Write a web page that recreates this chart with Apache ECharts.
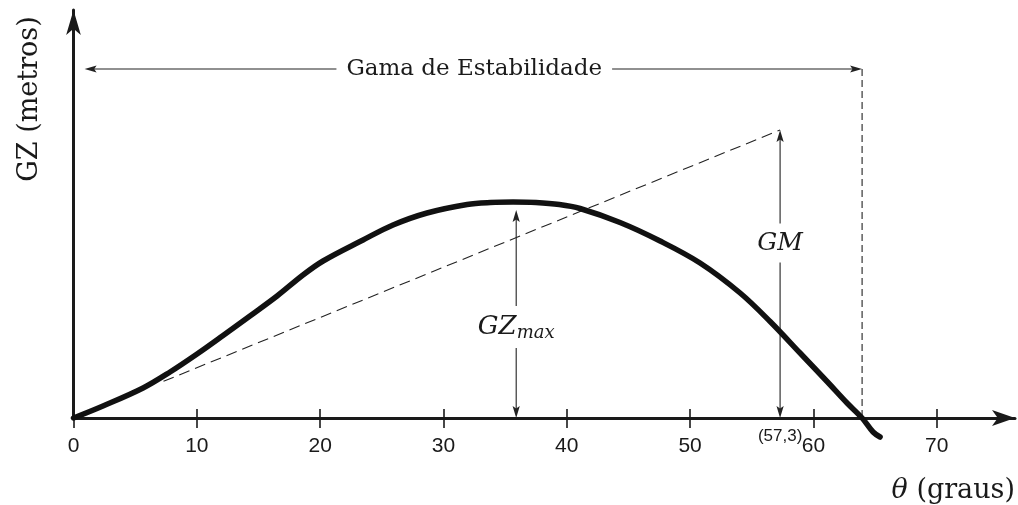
<!DOCTYPE html>
<html>
<head>
<meta charset="utf-8">
<script src="https://cdn.jsdelivr.net/npm/echarts@6/dist/echarts.min.js"></script>
<style>
  html, body { margin: 0; padding: 0; background: #ffffff; }
  #chart { width: 1018px; height: 505px; }
</style>
</head>
<body>
<div id="chart"></div>
<script>
// Righting-arm (GZ) curve: heel angle in degrees vs GZ in metres
const theta = [0, 2.39, 5.64, 7.83, 10.02, 12.13, 14.31, 16.51, 18.61, 20.24, 23.48, 25.91, 28.67, 31.92, 33.80, 35.65, 37.50, 39.40, 41.08, 44.32, 47.57, 50.81, 54.06, 56.49, 58.92, 61.11, 62.73, 63.95, 64.84, 65.41];
const gz    = [0, 0.12, 0.30, 0.46, 0.64, 0.825, 1.02, 1.22, 1.43, 1.57, 1.78, 1.93, 2.05, 2.135, 2.155, 2.16, 2.155, 2.135, 2.095, 1.955, 1.77, 1.55, 1.25, 0.965, 0.65, 0.365, 0.15, 0, -0.14, -0.19];

const tickValues  = [0, 10, 20, 30, 40, 50, 60, 70];
const innerTicks  = [10, 20, 30, 40, 50, 60, 70];

// Key quantities of the curve
const GM_THETA = 57.3;      // 1 radian, in degrees
const GM = 2.88;            // metacentric height read at 1 rad
const GZ_MAX_THETA = 35.9;
const GZ_MAX = 2.16;
const RANGE_END = 63.95;    // angle of vanishing stability
const RANGE_Y = 3.49;       // height of the "range" dimension line
const TANGENT_START = 7.3;

const X_MAX = 76.35;
const Y_MAX = 4.08;

// Dimension arrows: [x1, y1, x2, y2]
const arrows = [
  [0.9, RANGE_Y, RANGE_END, RANGE_Y],
  [GZ_MAX_THETA, 0, GZ_MAX_THETA, GZ_MAX - 0.08],
  [GM_THETA, 0, GM_THETA, GM]
];

// Text annotations: [x, y]
const noteTexts = ['Gama de Estabilidade', '{a|GZ}{b|max}', '{a|GM}', '(57,3)'];
const notePos = [[32.5, RANGE_Y], [GZ_MAX_THETA, 0.91], [GM_THETA, 1.75], [GM_THETA, 0]];

const INK = '#1a1a1a';
const SERIF = '"DejaVu Serif", serif';
const SANS = '"Liberation Sans", Arial, sans-serif';

function arrowItem(params, api) {
  const p1 = api.coord([api.value(0), api.value(1)]);
  const p2 = api.coord([api.value(2), api.value(3)]);
  const dx = p2[0] - p1[0], dy = p2[1] - p1[1];
  const len = Math.hypot(dx, dy);
  const ux = dx / len, uy = dy / len;
  const nx = -uy, ny = ux;
  const L = 12, W = 3.6;
  function head(tip, sx, sy) {
    const bx = tip[0] - L * sx, by = tip[1] - L * sy;
    return {
      type: 'polygon',
      shape: { points: [
        [tip[0], tip[1]],
        [bx + W * nx, by + W * ny],
        [tip[0] - 0.8 * L * sx, tip[1] - 0.8 * L * sy],
        [bx - W * nx, by - W * ny]
      ] },
      style: { fill: '#222' }
    };
  }
  return {
    type: 'group',
    children: [
      {
        type: 'line',
        shape: {
          x1: p1[0] + ux * 8, y1: p1[1] + uy * 8,
          x2: p2[0] - ux * 8, y2: p2[1] - uy * 8
        },
        style: { stroke: '#222', lineWidth: 1.1 }
      },
      head(p2, ux, uy),
      head(p1, -ux, -uy)
    ]
  };
}

function noteItem(params, api) {
  const i = params.dataIndex;
  const p = api.coord([api.value(0), api.value(1)]);
  const base = {
    type: 'text',
    x: p[0],
    y: p[1],
    z2: 10,
    style: {
      text: noteTexts[i],
      fill: INK,
      align: 'center',
      verticalAlign: 'middle',
      fontFamily: SERIF,
      fontSize: 23,
      backgroundColor: '#ffffff'
    }
  };
  if (i === 0) {
    base.style.padding = [2, 10];
  } else if (i === 1) {
    base.style.padding = [6, 4];
    base.style.rich = {
      a: { fontFamily: SERIF, fontStyle: 'italic', fontSize: 26, fill: INK, lineHeight: 30 },
      b: { fontFamily: SERIF, fontStyle: 'italic', fontSize: 18, fill: INK, verticalAlign: 'bottom', lineHeight: 12 }
    };
  } else if (i === 2) {
    base.style.padding = [7, 3];
    base.style.rich = {
      a: { fontFamily: SERIF, fontStyle: 'italic', fontSize: 25, fill: INK }
    };
  } else {
    base.y = p[1] + 18;
    base.style.fontFamily = SANS;
    base.style.fontSize = 17;
    base.style.backgroundColor = 'transparent';
  }
  return base;
}

const chart = echarts.init(document.getElementById('chart'), null, { renderer: 'canvas' });

chart.setOption({
  animation: false,
  backgroundColor: '#ffffff',
  grid: { left: 73.5, right: 3, top: 10, bottom: 87, containLabel: false },
  xAxis: [
    {
      type: 'value', min: 0, max: X_MAX, interval: 10, position: 'bottom',
      axisLine: {
        show: true, onZero: false,
        lineStyle: { color: INK, width: 3 },
        symbol: ['none', 'arrow'], symbolSize: [12, 23]
      },
      axisTick: { show: true, customValues: tickValues, length: 10, lineStyle: { color: INK, width: 1.6 } },
      axisLabel: { customValues: tickValues, margin: 18, fontFamily: SANS, fontSize: 21, color: INK },
      splitLine: { show: false }
    },
    {
      type: 'value', min: 0, max: X_MAX, interval: 10, position: 'bottom',
      axisLine: { show: false, onZero: false },
      axisTick: { show: true, inside: true, customValues: innerTicks, length: 9, lineStyle: { color: INK, width: 1.6 } },
      axisLabel: { show: false },
      splitLine: { show: false }
    }
  ],
  yAxis: {
    type: 'value', min: 0, max: Y_MAX,
    axisLine: {
      show: true, onZero: false,
      lineStyle: { color: INK, width: 3 },
      symbol: ['none', 'arrow'], symbolSize: [11, 25]
    },
    axisTick: { show: false },
    axisLabel: { show: false },
    splitLine: { show: false }
  },
  graphic: [
    {
      type: 'text', x: 30, y: 99, rotation: Math.PI / 2,
      style: {
        text: 'GZ (metros)', fill: INK, fontFamily: SERIF, fontSize: 27,
        align: 'center', verticalAlign: 'middle'
      }
    },
    {
      type: 'text', x: 1015, y: 491,
      style: {
        text: '{i|θ} (graus)', fill: INK, fontFamily: SERIF, fontSize: 27,
        align: 'right', verticalAlign: 'middle',
        rich: { i: { fontFamily: SERIF, fontStyle: 'italic', fontSize: 27, fill: INK } }
      }
    }
  ],
  series: [
    {
      name: 'tangente',
      type: 'line',
      data: [[TANGENT_START, GM * TANGENT_START / GM_THETA], [GM_THETA, GM]],
      showSymbol: false, symbol: 'none', silent: true,
      lineStyle: { color: '#222', width: 1.1, type: [11, 6] },
      z: 2
    },
    {
      name: 'limite',
      type: 'line',
      data: [[RANGE_END, RANGE_Y], [RANGE_END, 0]],
      showSymbol: false, symbol: 'none', silent: true,
      lineStyle: { color: '#222', width: 1.1, type: [7, 4] },
      z: 2
    },
    {
      name: 'GZ',
      type: 'line',
      data: theta.map((t, i) => [t, gz[i]]),
      smooth: 0.35,
      showSymbol: false, symbol: 'none', clip: false, silent: true,
      lineStyle: { color: '#111', width: 5.5, cap: 'round', join: 'round' },
      z: 5
    },
    {
      name: 'cotas',
      type: 'custom',
      data: arrows,
      renderItem: arrowItem,
      silent: true, clip: false,
      z: 3
    },
    {
      name: 'notas',
      type: 'custom',
      data: notePos,
      renderItem: noteItem,
      silent: true, clip: false,
      z: 6
    }
  ]
});
</script>
</body>
</html>
